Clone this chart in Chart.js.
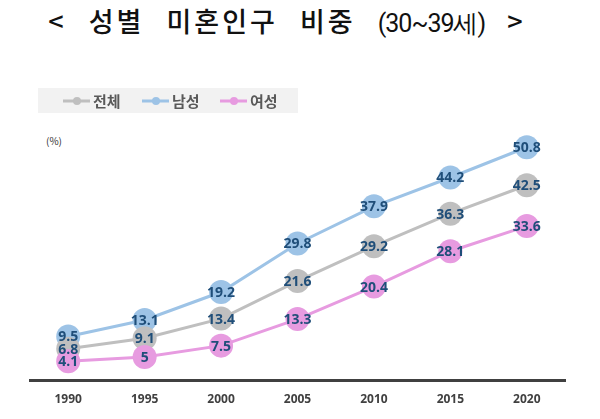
<!DOCTYPE html>
<html>
  <head>
    <meta charset="utf-8" />
    <title>성별 미혼인구 비중</title>
    <script src="https://cdn.jsdelivr.net/npm/chart.js@4.4.0/dist/chart.umd.min.js"></script>
    <style>
      body { margin: 0; background: #fff; }
      #wrap { position: relative; width: 600px; height: 419px; }
      #title {
        position: absolute; left: 0; width: 574px; top: 1px; text-align: center;
        font-family: "Noto Sans CJK KR", sans-serif; font-size: 27px; font-weight: 500;
        color: #111; letter-spacing: 3px; word-spacing: 13px; white-space: nowrap;
      }
      #title .sub { font-family: "Liberation Sans Narrow", "Roboto", sans-serif; font-weight: 400; font-size: 25px; word-spacing: 0; letter-spacing: -1px; }
      #legend {
        position: absolute; left: 38px; top: 88px; width: 260px; height: 25px;
        background: #f2f2f2;
      }
      #unit {
        position: absolute; left: 46px; top: 133px;
        font-family: "Noto Sans CJK KR", sans-serif; font-size: 10px; color: #333;
      }
      canvas { position: absolute; left: 0; top: 0; }
    </style>
  </head>
  <body>
    <div id="wrap">
      <div id="title">&lt; 성별 미혼인구 비중 <span class="sub">(30~39세)</span> &gt;</div>
      <div id="legend"></div>
      <div id="unit">(%)</div>
      <canvas id="myChart" width="600" height="419"></canvas>
    </div>
    <script>
      const years = ["1990", "1995", "2000", "2005", "2010", "2015", "2020"];
      const total = [6.8, 9.1, 13.4, 21.6, 29.2, 36.3, 42.5];
      const male = [9.5, 13.1, 19.2, 29.8, 37.9, 44.2, 50.8];
      const female = [4.1, 5, 7.5, 13.3, 20.4, 28.1, 33.6];

      const GRAY = "#bfbfbf", BLUE = "#9dc3e6", PINK = "#e79be0";

      // value labels in the middle of each point
      const valueLabels = {
        id: "valueLabels",
        afterDatasetsDraw(chart) {
          const ctx = chart.ctx;
          ctx.save();
          ctx.font = "bold 14px 'Open Sans', sans-serif";
          ctx.fillStyle = "#1f4e79";
          ctx.textAlign = "center";
          ctx.textBaseline = "middle";
          chart.data.datasets.forEach((ds, i) => {
            chart.getDatasetMeta(i).data.forEach((pt, j) => {
              ctx.fillText(String(ds.data[j]), pt.x, pt.y + 1);
            });
          });
          ctx.restore();
        }
      };

      // legend: line + dot + name inside the grey box
      const lineLegend = {
        id: "lineLegend",
        afterDraw(chart) {
          const ctx = chart.ctx;
          const items = [
            { x: 63, c: GRAY, t: "전체" },
            { x: 142, c: BLUE, t: "남성" },
            { x: 220, c: PINK, t: "여성" }
          ];
          ctx.save();
          ctx.font = "bold 15px 'Noto Sans CJK KR', sans-serif";
          ctx.textBaseline = "middle";
          items.forEach(it => {
            ctx.strokeStyle = it.c; ctx.fillStyle = it.c; ctx.lineWidth = 3;
            ctx.beginPath(); ctx.moveTo(it.x, 101); ctx.lineTo(it.x + 27, 101); ctx.stroke();
            ctx.beginPath(); ctx.arc(it.x + 14, 101, 4, 0, Math.PI * 2); ctx.fill();
            ctx.fillStyle = "#595959";
            ctx.fillText(it.t, it.x + 30, 101);
          });
          ctx.restore();
        }
      };

      function ds(label, data, color, order) {
        return {
          label, data, order,
          borderColor: color, backgroundColor: color,
          borderWidth: 3, pointRadius: 12, pointHoverRadius: 12,
          pointBorderWidth: 0, tension: 0, clip: false
        };
      }

      new Chart(document.getElementById("myChart"), {
        type: "line",
        data: {
          labels: years,
          datasets: [
            ds("전체", total, GRAY, 1),
            ds("남성", male, BLUE, 2),
            ds("여성", female, PINK, 0)
          ]
        },
        options: {
          responsive: false,
          animation: false,
          layout: { padding: { left: 30, right: 35, top: 128, bottom: 1 } },
          plugins: { legend: { display: false }, tooltip: { enabled: false } },
          scales: {
            x: {
              offset: true,
              grid: { display: false, drawTicks: false },
              border: { display: true, color: "#404040", width: 3 },
              ticks: { color: "#404040", padding: 12, font: { size: 12, weight: "bold", family: "'Open Sans', sans-serif" } },
              afterFit: s => { s.height = 38; }
            },
            y: { display: false, min: 0, max: 55 }
          }
        },
        plugins: [valueLabels, lineLegend]
      });
    </script>
  </body>
</html>
